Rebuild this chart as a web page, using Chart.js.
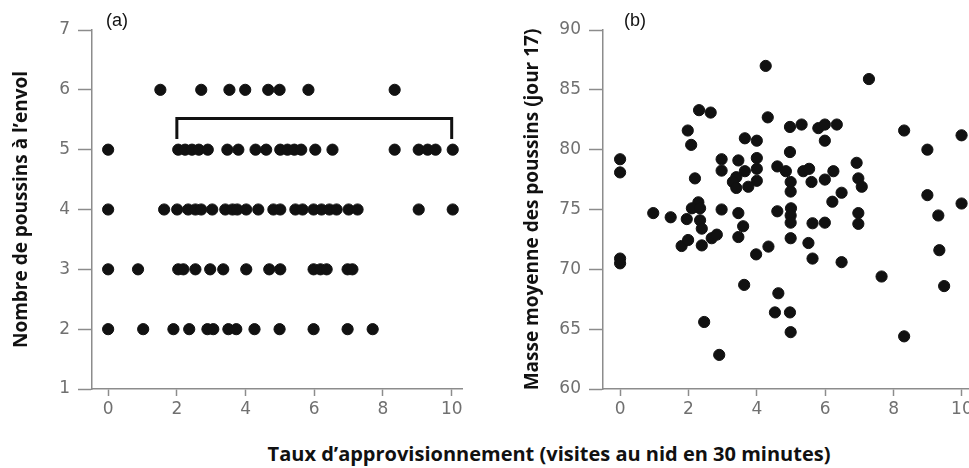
<!DOCTYPE html>
<html lang="fr">
<head>
<meta charset="utf-8">
<script src="https://cdn.jsdelivr.net/npm/chart.js@4"></script>
<style>
  html, body { margin: 0; padding: 0; background: #fff; }
  body { width: 969px; height: 468px; overflow: hidden; position: relative; }
  .wrap { position: absolute; top: 0; height: 420px; }
  #left { left: 0; width: 470px; }
  #right { left: 500px; width: 500px; }
  .tag { position: absolute; top: 10px; font: 18px "Liberation Sans", Arial, sans-serif; color: #111; }
  #xtitle {
    position: absolute; top: 440px; left: 549px; transform: translateX(-50%);
    white-space: nowrap; font: bold 20px "Open Sans", sans-serif; color: #111;
  }
</style>
</head>
<body>
<div class="wrap" id="left"><canvas id="chartA" width="470" height="420"></canvas></div>
<div class="wrap" id="right"><canvas id="chartB" width="500" height="420"></canvas></div>
<div class="tag" style="left:106px">(a)</div>
<div class="tag" style="left:624px">(b)</div>
<div id="xtitle">Taux d’approvisionnement (visites au nid en 30 minutes)</div>

<script>
// =========================
// données
// =========================
const xTicks = [0, 2, 4, 6, 8, 10];

// (a) taux d'approvisionnement pour chaque nombre de poussins à l'envol
const rate6 = [1.52, 2.71, 3.53, 3.99, 4.66, 4.99, 5.83, 8.34];
const rate5 = [0, 2.04, 2.24, 2.44, 2.64, 2.9, 3.47, 3.79, 4.29, 4.6, 5.01, 5.22, 5.42, 5.62, 6.03, 6.53, 8.34, 9.04, 9.3, 9.53, 10.03];
const rate4 = [0, 1.63, 2.01, 2.33, 2.54, 2.71, 3.03, 3.41, 3.62, 3.76, 4.02, 4.37, 4.81, 5.01, 5.45, 5.66, 5.98, 6.21, 6.44, 6.65, 7.0, 7.26, 9.04, 10.03];
const rate3 = [0, 0.87, 2.04, 2.19, 2.54, 2.97, 3.35, 4.02, 4.69, 5.01, 5.98, 6.18, 6.36, 6.97, 7.11];
const rate2 = [0, 1.02, 1.9, 2.36, 2.89, 3.06, 3.5, 3.73, 4.26, 4.99, 5.98, 6.97, 7.7];
const chickRows = [[6, rate6], [5, rate5], [4, rate4], [3, rate3], [2, rate2]];

// crochet au-dessus de la ligne 5
const bracketX = [2, 2, 10, 10];
const bracketY = [5.18, 5.52, 5.52, 5.18];

// (b) taux / masse moyenne (jour 17)
const rateB = [0, 0, 0, 0, 0.97, 1.48, 1.8, 1.99, 1.98, 2.08, 2.19, 2.29, 2.1, 2.34, 1.95, 2.34, 2.39, 2.39, 2.68, 2.83,
  2.31, 2.65, 2.46, 2.9, 2.97, 2.97, 2.97, 3.46, 3.46, 3.6, 3.46, 3.65, 4.0, 4.0, 4.0, 3.65, 3.4, 3.3, 4.0, 3.75,
  3.4, 4.26, 4.32, 4.6, 4.85, 3.98, 4.34, 3.63, 4.63, 4.53, 4.97, 4.99, 4.6, 5.0, 4.99, 4.99, 4.99, 4.97, 5.31, 5.8,
  5.99, 6.34, 5.99, 4.97, 5.36, 5.53, 6.24, 6.92, 4.99, 4.99, 5.6, 5.99, 6.97, 7.07, 6.48, 6.21, 5.63, 5.99, 6.97, 6.97,
  5.51, 5.63, 6.48, 7.28, 7.65, 8.31, 8.31, 8.99, 8.99, 9.31, 9.34, 9.48, 9.99, 9.99];
const massB = [79.2, 78.1, 70.9, 70.5, 74.7, 74.35, 71.95, 72.45, 81.6, 80.4, 77.6, 75.6, 75.1, 75.1, 74.2, 74.1, 73.4, 72.0, 72.6, 72.9,
  83.3, 83.1, 65.6, 62.85, 79.2, 78.25, 75.0, 79.1, 74.7, 73.6, 72.7, 80.95, 80.75, 79.3, 78.4, 78.2, 77.7, 77.3, 77.4, 76.9,
  76.8, 87.0, 82.7, 78.6, 78.2, 71.25, 71.9, 68.7, 68.0, 66.4, 66.4, 64.75, 74.85, 75.1, 74.5, 73.9, 72.6, 81.9, 82.1, 81.8,
  82.1, 82.1, 80.75, 79.8, 78.2, 78.4, 78.2, 78.9, 77.3, 76.5, 77.3, 77.5, 77.6, 76.9, 76.4, 75.65, 73.85, 73.9, 74.7, 73.8,
  72.2, 70.9, 70.6, 85.9, 69.4, 81.6, 64.4, 80.0, 76.2, 74.5, 71.6, 68.6, 81.2, 75.5];

// =========================
// styles communs
// =========================
const axisGrey = "#8c8c8c";
const dotColor = "#111";
const tickFont = { family: "'DejaVu Sans', sans-serif", size: 17 };
const titleFont = { family: "'Open Sans', sans-serif", size: 19, weight: "bold" };

function xScale(min, max, height) {
  return {
    type: "linear", min: min, max: max,
    afterBuildTicks: s => { s.ticks = xTicks.map(v => ({ value: v })); },
    afterFit: s => { s.height = height; },
    grid: { drawOnChartArea: false, tickLength: 7, tickColor: axisGrey, tickWidth: 1.5 },
    border: { color: axisGrey, width: 1.5 },
    ticks: { color: "#707070", font: tickFont, padding: 3, maxRotation: 0 }
  };
}

function yScale(min, max, step, width, title, pad) {
  return {
    min: min, max: max,
    afterFit: s => { s.width = width; },
    grid: { drawOnChartArea: false, tickLength: 14, tickColor: axisGrey, tickWidth: 1.5 },
    border: { color: axisGrey, width: 1.5 },
    ticks: { color: "#707070", font: tickFont, stepSize: step, padding: 8 },
    title: { display: true, text: title, color: "#111", font: titleFont, padding: { top: pad, bottom: 0 } }
  };
}

const baseOptions = {
  responsive: false,
  animation: false,
  plugins: { legend: { display: false }, tooltip: { enabled: false } },
};

// =========================
// (a)
// =========================
const pointsA = [];
chickRows.forEach(([n, rates]) => rates.forEach(r => pointsA.push({ x: r, y: n })));

new Chart(document.getElementById("chartA"), {
  type: "scatter",
  data: {
    datasets: [
      {
        data: pointsA,
        pointRadius: 5.6, pointBorderWidth: 1,
        backgroundColor: dotColor, borderColor: dotColor
      },
      {
        type: "line",
        data: bracketX.map((x, i) => ({ x: x, y: bracketY[i] })),
        showLine: true, pointRadius: 0,
        borderColor: "#111", borderWidth: 3, fill: false
      }
    ]
  },
  options: {
    ...baseOptions,
    layout: { padding: { top: 30, right: 8, left: 0, bottom: 0 } },
    scales: {
      x: xScale(-0.47, 10.3, 31),
      y: yScale(1, 7, 1, 92, "Nombre de poussins à l’envol", 10)
    }
  }
});

// =========================
// (b)
// =========================
new Chart(document.getElementById("chartB"), {
  type: "scatter",
  data: {
    datasets: [{
      data: rateB.map((x, i) => ({ x: x, y: massB[i] })),
      pointRadius: 5.6, pointBorderWidth: 1,
      backgroundColor: dotColor, borderColor: dotColor
    }]
  },
  options: {
    ...baseOptions,
    layout: { padding: { top: 30, right: 21, left: 0, bottom: 0 } },
    scales: {
      x: xScale(-0.5, 10.5, 31),
      y: yScale(60, 90, 5, 103, "Masse moyenne des poussins (jour 17)", 21)
    }
  }
});
</script>
</body>
</html>
